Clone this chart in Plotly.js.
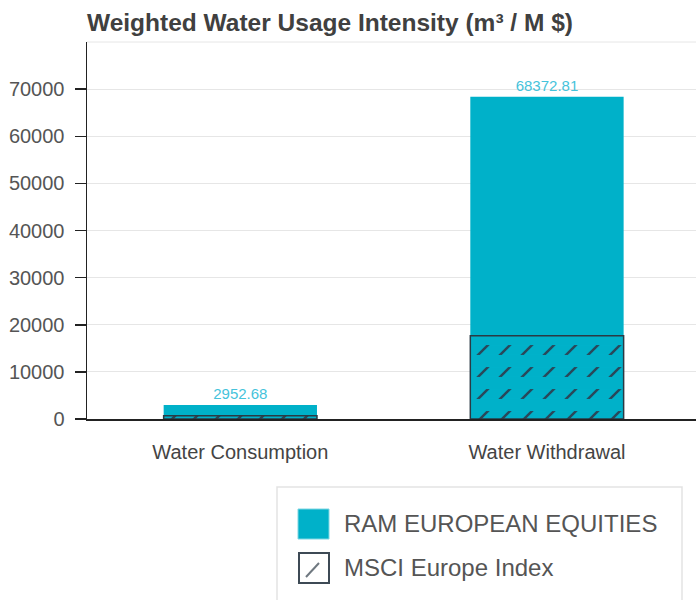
<!DOCTYPE html>
<html>
<head>
<meta charset="utf-8">
<script src="https://cdn.plot.ly/plotly-3.0.1.min.js"></script>
<style>html,body{margin:0;padding:0;background:#fff;}#chart{width:696px;height:600px;}</style>
</head>
<body>
<div id="chart"></div>
<script>
const categories = ["Water Consumption", "Water Withdrawal"];
const ramValues = [2952.68, 68372.81];
const msciValues = [700, 17650];
const seriesNames = ["RAM EUROPEAN EQUITIES", "MSCI Europe Index"];
const yTickVals = [0, 10000, 20000, 30000, 40000, 50000, 60000, 70000];
const chartTitle = "Weighted Water Usage Intensity (m³ / M $)";

const TEAL = "#00b1c9";
const FONT = "Liberation Sans, Arial, sans-serif";
const HATCH = 22;

const traces = [
  {
    type: "bar", name: seriesNames[0], x: categories, y: ramValues, width: 0.5,
    marker: {color: TEAL, line: {width: 0}},
    text: ramValues.map(v => v.toFixed(2)), textposition: "outside",
    textfont: {family: FONT, size: 15, color: "#45c3db"},
    cliponaxis: false, showlegend: false, hoverinfo: "x+y+name"
  },
  {
    type: "bar", name: seriesNames[1], x: categories, y: msciValues, width: 0.5,
    marker: {color: TEAL, line: {width: 0},
      pattern: {shape: "/", size: HATCH / Math.SQRT2, solidity: 0.16, fgcolor: "#29485a", fgopacity: 1, bgcolor: TEAL, fillmode: "replace"}},
    showlegend: false, hoverinfo: "x+y+name"
  },
  {
    type: "bar", name: seriesNames[1], x: categories, y: msciValues, width: 0.5,
    marker: {color: "rgba(0,0,0,0)", line: {width: 1.5, color: "#2a3a44"},
      pattern: {shape: "-", size: HATCH, solidity: 0.55, fgcolor: TEAL, fgopacity: 1, bgcolor: "rgba(0,0,0,0)", fillmode: "replace"}},
    showlegend: false, hoverinfo: "skip"
  }
];

// paper-coordinate helpers for the custom legend
const L = 87, R = 696, T = 42, B = 419;
const px = x => (x - L) / (R - L);
const py = y => (B - y) / (B - T);

const layout = {
  width: 696, height: 600,
  margin: {l: L, r: 696 - R, t: T, b: 600 - B},
  paper_bgcolor: "#fff", plot_bgcolor: "#fff",
  barmode: "overlay",
  font: {family: FONT, color: "#555"},
  title: {text: "<b>" + chartTitle + "</b>", font: {family: FONT, size: 24.5, color: "#404040"},
    xref: "container", yref: "container", x: 87 / 696, xanchor: "left", y: 1 - 22 / 600, yanchor: "middle"},
  xaxis: {range: [-0.5, 1.486], showgrid: false, zeroline: false, showline: true, linecolor: "#222", linewidth: 1.5,
    ticks: "", tickfont: {family: FONT, size: 20, color: "#444"}, ticklabelstandoff: 14, fixedrange: true},
  yaxis: {range: [0, 80000], tickvals: yTickVals, ticktext: yTickVals.map(String),
    showgrid: true, gridcolor: "#e6e6e6", gridwidth: 1, zeroline: false,
    showline: true, linecolor: "#222", linewidth: 1.5,
    ticks: "outside", ticklen: 11, tickwidth: 1.5, tickcolor: "#222",
    tickfont: {family: FONT, size: 20, color: "#555"}, ticklabelstandoff: 6, fixedrange: true},
  shapes: [
    {type: "line", xref: "paper", yref: "paper", x0: 0, x1: 1, y0: 1, y1: 1, line: {color: "#e6e6e6", width: 1}, layer: "below"},
    {type: "rect", xref: "paper", yref: "paper", x0: px(277), x1: px(682), y0: py(487), y1: py(610),
      line: {color: "#e3e3e3", width: 1.5}, fillcolor: "rgba(0,0,0,0)"},
    {type: "rect", xref: "paper", yref: "paper", x0: px(298), x1: px(329), y0: py(509), y1: py(539),
      line: {color: "#7fd6e3", width: 1}, fillcolor: TEAL},
    {type: "rect", xref: "paper", yref: "paper", x0: px(299), x1: px(329), y0: py(553), y1: py(583),
      line: {color: "#3d4a55", width: 2}, fillcolor: "#fff"},
    {type: "line", xref: "paper", yref: "paper", x0: px(306), x1: px(319), y0: py(577), y1: py(563),
      line: {color: "#6f7880", width: 2}}
  ],
  annotations: [
    {xref: "paper", yref: "paper", x: px(342), y: py(523), xanchor: "left", yanchor: "middle", showarrow: false,
      text: seriesNames[0], font: {family: FONT, size: 24, color: "#555"}},
    {xref: "paper", yref: "paper", x: px(342), y: py(567), xanchor: "left", yanchor: "middle", showarrow: false,
      text: seriesNames[1], font: {family: FONT, size: 24, color: "#555"}}
  ]
};

Plotly.newPlot("chart", traces, layout, {displayModeBar: false, staticPlot: true});
</script>
</body>
</html>
